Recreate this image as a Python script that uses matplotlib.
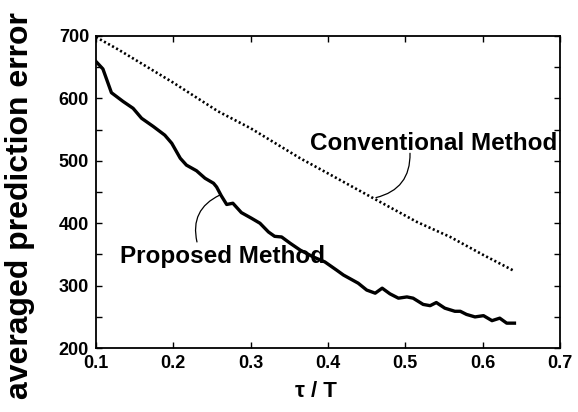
import matplotlib
matplotlib.use("Agg")
import matplotlib.pyplot as plt
from matplotlib.ticker import MultipleLocator

# Data
tau_proposed = [0.100, 0.109, 0.120, 0.135, 0.148, 0.159, 0.174, 0.189, 0.198,
                0.209, 0.217, 0.230, 0.241, 0.252, 0.256, 0.262, 0.269, 0.277,
                0.288, 0.301, 0.312, 0.323, 0.331, 0.340, 0.351, 0.364, 0.381,
                0.396, 0.411, 0.420, 0.439, 0.450, 0.461, 0.470, 0.480, 0.491,
                0.502, 0.510, 0.523, 0.532, 0.540, 0.551, 0.564, 0.571, 0.579,
                0.590, 0.601, 0.612, 0.622, 0.631, 0.641]
err_proposed = [659, 647, 609, 595, 584, 568, 555, 541, 528,
                504, 493, 484, 472, 464, 458, 444, 430, 432,
                417, 408, 400, 386, 379, 378, 368, 357, 346,
                338, 325, 317, 304, 293, 288, 296, 287, 280,
                282, 280, 270, 268, 273, 264, 259, 259, 254,
                250, 252, 244, 248, 240, 240]

tau_conventional = [0.100, 0.129, 0.200, 0.258, 0.300, 0.364, 0.407, 0.463,
                    0.515, 0.558, 0.601, 0.640]
err_conventional = [698, 678, 625, 579, 552, 504, 475, 437,
                    402, 378, 349, 324]

x_ticks = [0.1, 0.2, 0.3, 0.4, 0.5, 0.6, 0.7]
y_ticks = [200, 300, 400, 500, 600, 700]

FONT = "Liberation Sans"

fig = plt.figure(figsize=(5.78, 4.12), dpi=100)
ax = fig.add_axes([0.166, 0.155, 0.803, 0.758])

ax.plot(tau_conventional, err_conventional, color="black", lw=1.9,
        linestyle=(0, (0.8, 0.95)))
ax.plot(tau_proposed, err_proposed, color="black", lw=2.4,
        solid_joinstyle="round")

ax.set_xlim(0.1, 0.7)
ax.set_ylim(200, 700)
ax.set_xticks(x_ticks)
ax.set_yticks(y_ticks)
ax.yaxis.set_minor_locator(MultipleLocator(50))
ax.set_xticklabels([f"{t:.1f}" for t in x_ticks])
ax.set_yticklabels([str(t) for t in y_ticks])

ax.tick_params(which="both", direction="in", top=True, right=True,
               length=4, width=1, labelsize=13, pad=5)
for lab in ax.get_xticklabels() + ax.get_yticklabels():
    lab.set_fontweight("bold")
    lab.set_family(FONT)
for sp in ax.spines.values():
    sp.set_linewidth(1.3)

ax.set_xlabel("\u03c4 / T", fontsize=16, fontweight="bold", family=FONT)
ax.xaxis.set_label_coords(0.474, -0.105)
ax.set_ylabel("averaged prediction error", fontsize=23, fontweight="bold",
              family=FONT)
ax.yaxis.set_label_coords(-0.131, 0.455)

# labels with curved leader lines
ax.text(0.537, 527, "Conventional Method", fontsize=17.5, fontweight="bold",
        family=FONT, ha="center", va="center")
ax.annotate("", xy=(0.462, 441), xytext=(0.506, 512),
            arrowprops=dict(arrowstyle="-", lw=0.9, color="black",
                            connectionstyle="arc3,rad=-0.4",
                            shrinkA=0, shrinkB=0))

ax.text(0.263, 347, "Proposed Method", fontsize=17.5, fontweight="bold",
        family=FONT, ha="center", va="center")
ax.annotate("", xy=(0.260, 445), xytext=(0.2306, 370),
            arrowprops=dict(arrowstyle="-", lw=0.9, color="black",
                            connectionstyle="arc3,rad=-0.4",
                            shrinkA=0, shrinkB=0))

fig.savefig("out.png", dpi=100)
